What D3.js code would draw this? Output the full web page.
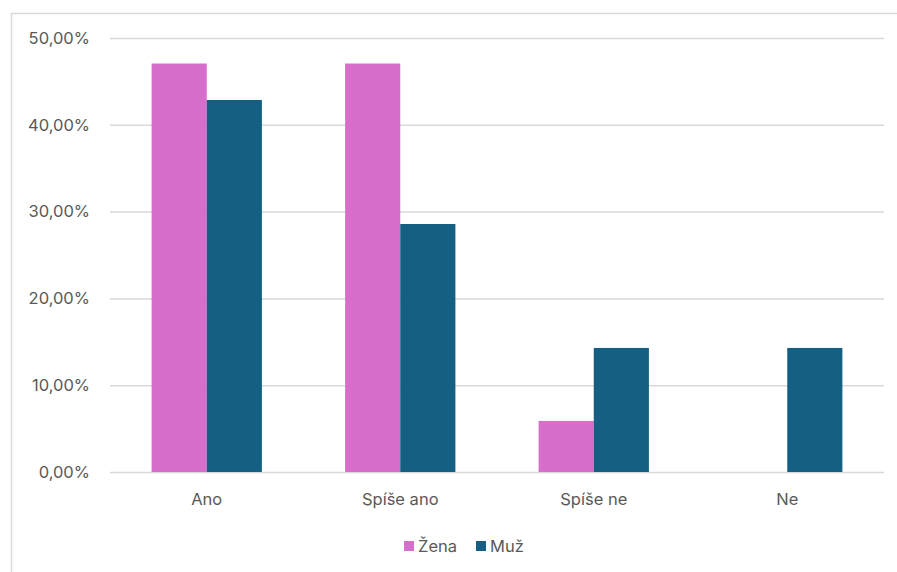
<!DOCTYPE html>
<html>
<head>
<meta charset="utf-8">
<script src="https://cdn.jsdelivr.net/npm/d3@7"></script>
<style>
 body { margin: 0; background: #fff; }
 svg { display: block; font-family: Inter, "Noto Sans", sans-serif; }
</style>
</head>
<body>
<svg width="897" height="572"></svg>
<script>
// Data.

var categories = ['Ano', 'Spíše ano', 'Spíše ne', 'Ne'];
var seriesNames = ['Žena', 'Muž'];
var zena = [0.4706, 0.4706, 0.0588, 0];
var muz = [0.4286, 0.2857, 0.1429, 0.1429];
var yTicks = [0, 0.1, 0.2, 0.3, 0.4, 0.5];
var colors = ['#d86ecc', '#156082'];

var svg = d3.select('svg');

// Chart frame.

svg.append('rect')
 .attr('x', 11.5).attr('y', 13.5)
 .attr('width', 900).attr('height', 580)
 .attr('fill', 'none')
 .attr('stroke', '#d9d9d9')
 .attr('stroke-width', 1.5);

var margin = {top: 38, left: 110, right: 13, bottom: 100};
var width = 897 - margin.left - margin.right;
var height = 472 - margin.top;
var graphic = svg.append('g').attr('transform', 'translate(' + margin.left + ',' + margin.top + ')');

var x0 = d3.scaleBand().domain(categories).range([0, width]).paddingInner(0.43).paddingOuter(0.215);
var x1 = d3.scaleBand().domain(seriesNames).range([0, x0.bandwidth()]);
var y = d3.scaleLinear().domain([0, 0.5]).range([height, 0]);

var fmt = function(v) { return d3.format('.2f')(v * 100).replace('.', ',') + '%'; };
var fontSize = '16.5px';

// Gridlines and y labels.

var yAxis = graphic.append('g')
 .call(d3.axisLeft(y).tickValues(yTicks).tickSize(-width).tickFormat(fmt).tickPadding(20));
yAxis.select('.domain').remove();
yAxis.selectAll('line').attr('stroke', '#d9d9d9').attr('stroke-width', 1.5);
yAxis.selectAll('text').attr('fill', '#595959').style('font-size', fontSize).style('font-family', 'Inter, "Noto Sans", sans-serif');

// Bars.

var rows = categories.map(function(c, i) { return {cat: c, values: [zena[i], muz[i]]}; });

graphic.append('g')
 .selectAll('g')
 .data(rows)
 .enter().append('g')
 .attr('transform', function(d) { return 'translate(' + x0(d.cat) + ',0)'; })
 .selectAll('rect')
 .data(function(d) { return d.values.map(function(v, i) { return {key: seriesNames[i], value: v, i: i}; }); })
 .enter().append('rect')
 .attr('x', function(d) { return x1(d.key); })
 .attr('y', function(d) { return y(d.value); })
 .attr('width', x1.bandwidth())
 .attr('height', function(d) { return height - y(d.value); })
 .attr('fill', function(d) { return colors[d.i]; });

// Category labels.

var xAxis = graphic.append('g')
 .attr('transform', 'translate(0,' + height + ')')
 .call(d3.axisBottom(x0).tickSize(0).tickPadding(21));
xAxis.select('.domain').remove();
xAxis.selectAll('text').attr('fill', '#595959').style('font-size', fontSize).style('font-family', 'Inter, "Noto Sans", sans-serif');

// Legend.

var legend = svg.append('g').attr('transform', 'translate(404,546)');
var legendX = [0, 72];
var item = legend.selectAll('g')
 .data(seriesNames)
 .enter().append('g')
 .attr('transform', function(d, i) { return 'translate(' + legendX[i] + ',0)'; });
item.append('rect')
 .attr('x', 0).attr('y', -5)
 .attr('width', 10).attr('height', 10)
 .attr('fill', function(d, i) { return colors[i]; });
item.append('text')
 .attr('x', 14).attr('y', 0).attr('dy', '0.35em')
 .attr('fill', '#595959')
 .style('font-size', fontSize)
 .text(function(d) { return d; });
</script>
</body>
</html>
